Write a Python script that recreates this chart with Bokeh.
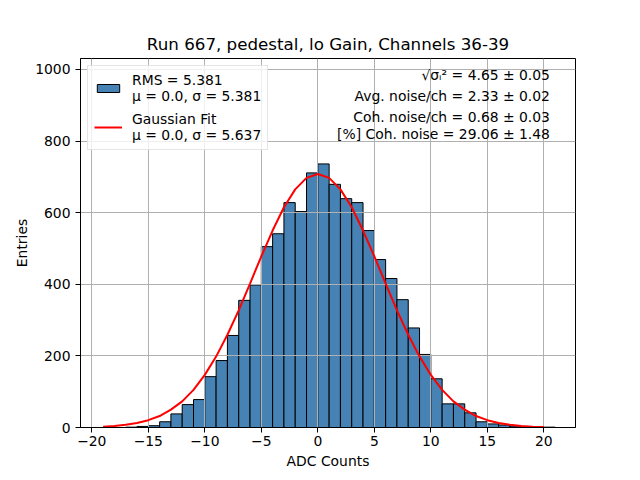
from bokeh.plotting import figure
from bokeh.models import Range1d, Legend, LegendItem, Label
from bokeh.embed import file_html
from bokeh.resources import INLINE

# ---- data ----
bin_edges = list(range(-17, 22))  # -17 .. 21
counts = [1, 3, 5, 16, 38, 64, 78, 142, 187, 257, 355, 398, 505, 541, 628, 603,
          711, 736, 679, 639, 628, 550, 469, 416, 357, 278, 204, 136, 66, 66,
          41, 16, 10, 7, 4, 2, 1, 1]

fit_x = list(range(-19, 21))
fit_y = [2.4, 4.3, 7.5, 12.6, 20.5, 32, 50, 73, 105, 147, 198, 259, 327, 402,
         478, 550, 615, 665, 697, 708, 697, 665, 615, 550, 478, 402, 327, 259,
         198, 147, 105, 73, 50, 32, 20.5, 12.6, 7.5, 4.3, 2.4, 1.3]

x_ticks = [-20, -15, -10, -5, 0, 5, 10, 15, 20]
y_ticks = [0, 200, 400, 600, 800, 1000]

title_text = "Run 667, pedestal, lo Gain, Channels 36-39"
hist_label = "RMS = 5.381\nμ = 0.0, σ = 5.381"
fit_label = "Gaussian Fit\nμ = 0.0, σ = 5.637"
info_lines = ["√σᵢ² = 4.65 ± 0.05",
              "Avg. noise/ch = 2.33 ± 0.02",
              "Coh. noise/ch = 0.68 ± 0.03",
              "[%] Coh. noise = 29.06 ± 1.48"]

FONT = "DejaVu Sans"

p = figure(width=640, height=480, output_backend="svg", toolbar_location=None,
           x_range=Range1d(-21, 22.8), y_range=Range1d(0, 1.4 * max(counts)),
           min_border_left=80, min_border_right=65, min_border_top=58,
           min_border_bottom=53)

p.title.text = title_text
p.title.align = "center"
p.title.text_font = FONT
p.title.text_font_size = "16.7px"
p.title.text_font_style = "normal"
p.title.text_color = "black"

bars = p.quad(left=bin_edges[:-1], right=bin_edges[1:], top=counts, bottom=0,
              fill_color="#4682b4", line_color="black", line_width=1)
bars.level = "image"
fit = p.line(fit_x, fit_y, line_color="red", line_width=2)

# axes
p.xaxis.ticker = x_ticks
p.yaxis.ticker = y_ticks
p.xaxis.major_label_overrides = {t: (str(t).replace("-", "\u2212")) for t in x_ticks}
for ax in (p.xaxis[0], p.yaxis[0]):
    ax.major_label_text_font = FONT
    ax.major_label_text_font_size = "13.9px"
    ax.major_label_text_color = "black"
    ax.axis_label_text_font = FONT
    ax.axis_label_text_font_size = "13.9px"
    ax.axis_label_text_font_style = "normal"
    ax.axis_label_text_color = "black"
    ax.axis_line_color = "black"
    ax.major_tick_line_color = "black"
    ax.major_tick_out = 5
    ax.major_tick_in = 0
    ax.minor_tick_line_color = None
p.xaxis.axis_label = "ADC Counts"
p.yaxis.axis_label = "Entries"
p.xaxis.major_label_standoff = 3
p.xaxis.axis_label_standoff = 4
p.yaxis.axis_label_standoff = 2

p.grid.grid_line_color = "#b0b0b0"
p.grid.grid_line_width = 1
p.outline_line_color = "black"
p.outline_line_width = 1
p.background_fill_color = "white"
p.border_fill_color = "white"

legend = Legend(items=[LegendItem(label=hist_label, renderers=[bars]),
                       LegendItem(label=fit_label, renderers=[fit])],
                location="top_left", margin=7, padding=6, spacing=7,
                label_standoff=10, glyph_width=28, glyph_height=10,
                label_text_font=FONT, label_text_font_size="13.9px",
                label_text_color="black", label_text_line_height=1.25,
                border_line_color="#cccccc", border_line_width=1,
                background_fill_alpha=0.8)
p.add_layout(legend)

info_y = [984, 926, 867, 819]
for txt, yy in zip(info_lines, info_y):
    p.add_layout(Label(x=20.54, y=yy, text=txt, text_align="right",
                       text_baseline="middle", text_font=FONT,
                       text_font_size="13.9px", text_color="black"))

open("out.html", "w").write(file_html(p, INLINE))
